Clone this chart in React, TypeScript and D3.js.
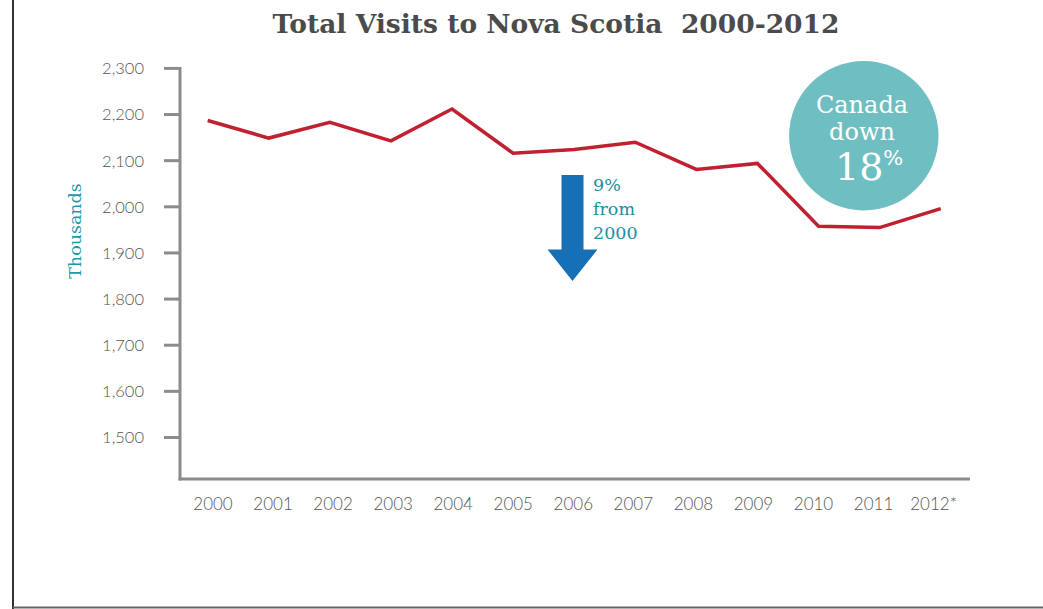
import React from "react";
import * as d3 from "d3";

const years = ["2000","2001","2002","2003","2004","2005","2006","2007","2008","2009","2010","2011","2012*"];
const visits = [2187, 2149, 2183, 2143, 2212, 2116, 2124, 2140, 2081, 2094, 1958, 1955, 1996];
const yTicks = [1500, 1600, 1700, 1800, 1900, 2000, 2100, 2200, 2300];
const titleText = "Total Visits to Nova Scotia  2000-2012";
const yLabel = "Thousands";
const arrowLines = ["9%", "from", "2000"];
const bubbleLines = ["Canada", "down"];
const bubbleValue = "18";

const W = 1043, H = 609;

export default function App() {
  const y = d3.scaleLinear().domain([1410, 2300]).range([479, 68.4]);
  const xLabel = d3.scalePoint<string>().domain(years).range([213, 933.6]);
  const xLine = d3.scalePoint<string>().domain(years).range([207.7, 940.7]);
  const line = d3.line<number>()
    .x((_, i) => xLine(years[i]) as number)
    .y((d) => y(d));
  const fmt = d3.format(",");
  const axisColor = "#8c8c8c";
  const tickFont = "Lato, 'Open Sans', sans-serif";
  const slab = "'DejaVu Serif', serif";

  const axX = 180;
  const axY = y(1410);

  const ax = 572.5;
  const arrowPath = `M${ax - 11},175 L${ax + 11},175 L${ax + 11},249.5 L${ax + 25},249.5 L${ax},281 L${ax - 25},249.5 L${ax - 11},249.5 Z`;

  return (
    <div style={{ position: "fixed", left: 0, top: 0 }}>
      <svg width={W} height={H} style={{ display: "block", background: "#fff" }}>
        <line x1={13} y1={0} x2={13} y2={H} stroke="#333" strokeWidth={2} />
        <line x1={13} y1={607.5} x2={W} y2={607.5} stroke="#666" strokeWidth={2} />

        <text x={556} y={33} textAnchor="middle" fontFamily={slab} fontWeight="bold" fontSize={26.5} fill="#4b4b4b" style={{ whiteSpace: "pre" }}>
          {titleText}
        </text>

        <line x1={axX} y1={y(2300) - 1.5} x2={axX} y2={axY + 1.5} stroke={axisColor} strokeWidth={3} />
        {yTicks.map((t) => (
          <g key={t}>
            <line x1={164} x2={axX} y1={y(t)} y2={y(t)} stroke={axisColor} strokeWidth={3} />
            <text x={144} y={y(t)} dy="0.36em" textAnchor="end" fontFamily={tickFont} fontWeight={300} fontSize={16.5} fill="#555">
              {fmt(t)}
            </text>
          </g>
        ))}
        <text transform={`translate(81,231) rotate(-90)`} textAnchor="middle" fontFamily={slab} fontSize={17.5} fill="#1d98a8">
          {yLabel}
        </text>

        <line x1={axX - 1.5} y1={axY} x2={970} y2={axY} stroke={axisColor} strokeWidth={3} />
        {years.map((yr) => (
          <text key={yr} x={xLabel(yr)} y={510} textAnchor="middle" fontFamily={tickFont} fontWeight={300} fontSize={17} fill="#555">
            {yr}
          </text>
        ))}

        <path d={line(visits) || ""} fill="none" stroke="#c0202f" strokeWidth={3.5} strokeLinejoin="miter" />

        <path d={arrowPath} fill="#1570b8" />
        {arrowLines.map((t, i) => (
          <text key={t} x={593} y={191 + i * 24} fontFamily={slab} fontSize={17.5} fill="#1a8fa0">
            {t}
          </text>
        ))}

        <circle cx={863.8} cy={135.8} r={74.7} fill="#6fbfc2" />
        {bubbleLines.map((t, i) => (
          <text key={t} x={862} y={113 + i * 27} textAnchor="middle" fontFamily={slab} fontSize={24} fill="#fff">
            {t}
          </text>
        ))}
        <text x={835} y={180} fontFamily={slab} fontSize={38} fill="#fff">
          {bubbleValue}
          <tspan fontSize={21} dy={-15}>%</tspan>
        </text>
      </svg>
    </div>
  );
}
